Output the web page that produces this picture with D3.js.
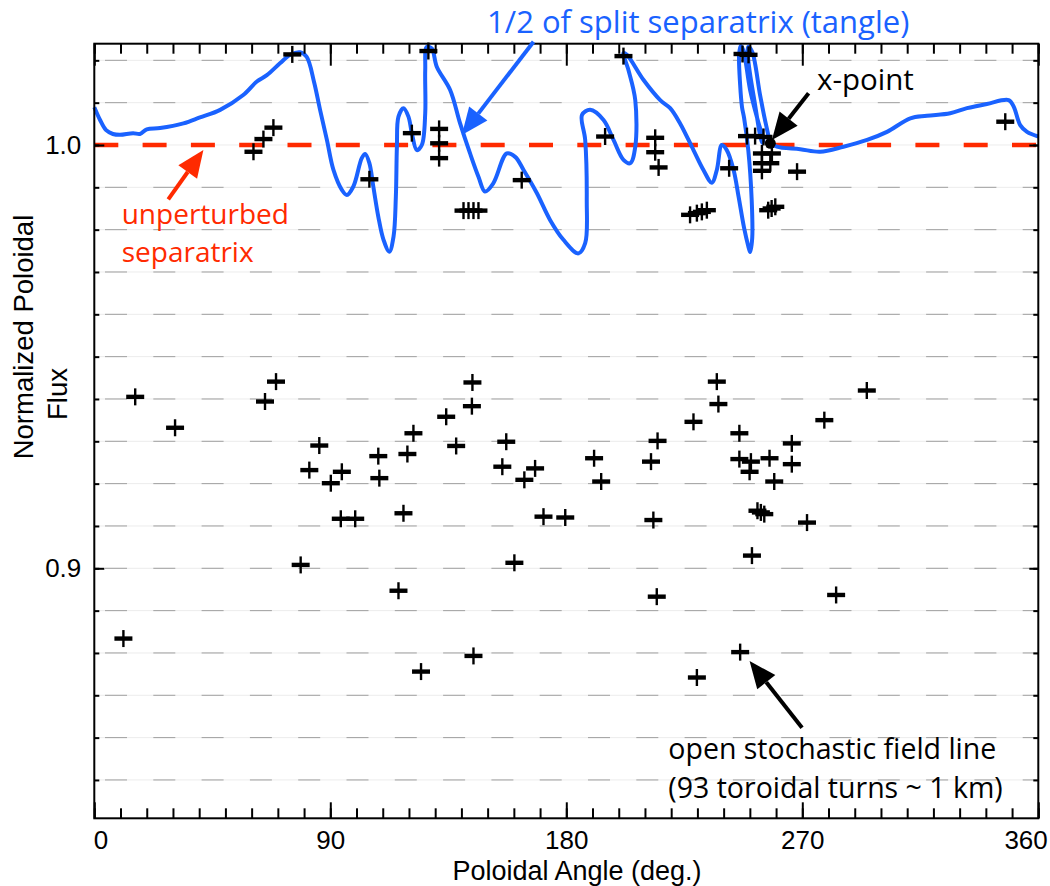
<!DOCTYPE html>
<html>
<head>
<meta charset="utf-8">
<script src="https://cdn.jsdelivr.net/npm/d3@7"></script>
<style>
  body { margin: 0; background: #fff; }
  svg { display: block; }
</style>
</head>
<body>
<div id="chart"></div>
<script>
const WIDTH = 1050;
const HEIGHT = 886;
const LEFT = 94.3, RIGHT = 1038.3, TOP = 43.7, BOTTOM = 818.3;
const BLUE = '#1a62ff';
const RED = '#ff2a00';
const AXIS_FONT = '"Liberation Sans", Arial, sans-serif';
const NOTE_FONT = '"Open Sans", "Noto Sans", sans-serif';

// x axis: poloidal angle (deg), y axis: normalized poloidal flux
const xTickValues = [0, 90, 180, 270, 360];
const xTickLabels = ['0', '90', '180', '270', '360'];
const yTickValues = [0.9, 1.0];
const yTickLabels = ['0.9', '1.0'];
const yDomain = [0.84094, 1.02393];

// field line punctures (angle, flux)
const crossAngle = [
  60.7, 64.5, 68.3, 75.5, 104.9, 121.1, 127.4, 131.5, 131.5, 131.5,
  140.8, 142.7, 144.6, 146.5, 163.0, 201.8, 194.8, 213.9, 213.9, 215.2,
  227.2, 229.8, 231.7, 233.6, 242.1, 247.2, 249.5,
  248.9, 252.0, 255.2, 254.6, 258.4, 254.6, 257.8, 254.6, 268.0,
  257.0, 258.3, 259.7, 347.4,
  15.6, 30.8, 65.1, 69.3, 85.8, 82.0, 90.2, 94.4, 94.0, 99.5,
  78.7, 108.3, 108.7, 119.4, 121.7, 117.9, 134.2, 138.0, 144.0, 144.2,
  157.1, 155.6, 164.0, 168.1, 171.3, 179.6, 160.2, 116.0, 190.6, 193.3,
  212.3, 214.8, 213.2, 214.5, 228.5, 237.4, 238.0, 246.0, 246.0, 250.4,
  249.9, 257.5, 259.3, 266.0, 266.0, 278.4, 294.6, 252.9, 254.2, 255.5,
  271.8, 250.8, 282.9, 11.1, 124.6, 144.6, 229.8, 246.3
];
const crossFlux = [
  0.9984, 1.0014, 1.0041, 1.0214, 0.9919, 1.0028, 1.0222, 1.0038, 1.0004, 0.9969,
  0.9845, 0.9845, 0.9845, 0.9845, 0.9917, 1.0210, 1.0020, 1.0017, 0.9983, 0.9947,
  0.9835, 0.9839, 0.9842, 0.9846, 0.9945, 1.0215, 1.0213,
  1.0021, 1.0021, 1.0019, 0.9980, 0.9980, 0.9957, 0.9957, 0.9939, 0.9937,
  0.9846, 0.9850, 0.9854, 1.0055,
  0.9405, 0.9332, 0.9394, 0.9441, 0.9290, 0.9232, 0.9201, 0.9228, 0.9117, 0.9117,
  0.9008, 0.9265, 0.9213, 0.9270, 0.9319, 0.9130, 0.9358, 0.9289, 0.9383, 0.9439,
  0.9299, 0.9240, 0.9209, 0.9236, 0.9122, 0.9120, 0.9013, 0.8947, 0.9260, 0.9205,
  0.9252, 0.9301, 0.9114, 0.8933, 0.9346, 0.9441, 0.9388, 0.9319, 0.9258, 0.9252,
  0.9228, 0.9260, 0.9205, 0.9295, 0.9246, 0.9350, 0.9420, 0.9136, 0.9132, 0.9128,
  0.9108, 0.9030, 0.8937, 0.8834, 0.8756, 0.8793, 0.8742, 0.8802
];

// half of the split separatrix, traced in order along the curve
const tangleAngle = [
  0.0, 2.2, 4.5, 7.1, 9.8, 14.8, 17.4, 20.0, 25.1, 34.0,
  40.3, 48.0, 56.8, 62.0, 65.8, 70.8, 74.7, 78.5, 81.0, 83.8,
  86.1, 88.7, 91.2, 94.4, 96.3, 98.8, 102.0, 103.3, 104.9, 106.4,
  108.3, 110.3, 112.5, 114.1, 115.0, 115.4, 116.0, 117.9, 119.8, 121.1,
  123.0, 124.9, 126.2, 126.2, 126.8, 128.7, 130.6, 135.7, 139.5, 143.3,
  146.5, 149.0, 152.2, 157.3, 160.5, 163.7, 168.8, 173.8, 178.9, 184.6,
  187.2, 187.8, 187.2, 186.0, 189.1, 194.2, 198.0, 201.8, 204.4, 206.3,
  206.3, 203.7, 201.8, 203.1, 209.4, 215.8, 219.6, 223.4, 228.5, 232.3,
  235.5, 237.4, 239.3, 241.2, 243.8, 245.7, 247.8, 249.4, 250.1, 250.9,
  250.7, 249.4, 247.8, 247.0, 246.3, 245.9, 246.5, 247.5, 250.1, 253.2,
  255.1, 254.7, 251.7, 249.4, 249.4, 250.9, 253.9, 256.2, 258.1, 260.3,
  269.2, 276.8, 285.7, 294.7, 302.3, 311.2, 317.5, 326.4, 332.8, 340.4,
  348.7, 350.6, 353.1, 355.7, 360.0
];
const tangleFlux = [
  1.0089, 1.0059, 1.0035, 1.0026, 1.0024, 1.0028, 1.0026, 1.0037, 1.0040, 1.0051,
  1.0065, 1.0083, 1.0118, 1.0150, 1.0165, 1.0193, 1.0213, 1.0219, 1.0208, 1.0149,
  1.0083, 1.0012, 0.9941, 0.9894, 0.9882, 0.9902, 0.9969, 0.9979, 0.9957, 0.9902,
  0.9831, 0.9776, 0.9748, 0.9783, 0.9878, 0.9996, 1.0067, 1.0087, 1.0067, 1.0028,
  0.9988, 1.0000, 1.0075, 1.0177, 1.0232, 1.0228, 1.0185, 1.0130, 1.0051, 0.9980,
  0.9925, 0.9890, 0.9910, 0.9980, 0.9972, 0.9941, 0.9886, 0.9823, 0.9776, 0.9744,
  0.9768, 0.9870, 1.0012, 1.0071, 1.0083, 1.0059, 1.0012, 0.9965, 0.9957, 0.9996,
  1.0106, 1.0177, 1.0217, 1.0213, 1.0154, 1.0106, 1.0087, 1.0051, 0.9988, 0.9941,
  0.9911, 0.9941, 1.0000, 0.9988, 0.9941, 0.9878, 0.9804, 0.9761, 0.9747, 0.9780,
  0.9870, 0.9988, 1.0064, 1.0090, 1.0142, 1.0213, 1.0234, 1.0224, 1.0130, 1.0054,
  1.0012, 1.0005, 1.0106, 1.0201, 1.0232, 1.0220, 1.0118, 1.0047, 1.0005, 0.9996,
  0.9990, 0.9984, 0.9996, 1.0012, 1.0031, 1.0063, 1.0069, 1.0075, 1.0087, 1.0097,
  1.0106, 1.0091, 1.0047, 1.0031, 1.0020
];

// x-point of the unperturbed separatrix
const xPoint = [257.8, 1.0004];

const svg = d3.select('#chart')
  .append('svg')
  .attr('width', WIDTH)
  .attr('height', HEIGHT);

const x = d3.scaleLinear().domain([0, 360]).range([LEFT, RIGHT]);
const y = d3.scaleLinear().domain(yDomain).range([BOTTOM, TOP]);

// dashed grid every 0.01 in flux
const gridValues = d3.range(0.85, 1.0205, 0.01).map(v => +v.toFixed(2));
const grid = svg.append('g');
grid.selectAll('line.faint')
  .data(gridValues)
  .enter()
  .append('line')
  .attr('x1', LEFT).attr('x2', RIGHT)
  .attr('y1', d => y(d)).attr('y2', d => y(d))
  .attr('stroke', '#ececec')
  .attr('stroke-width', 1);
grid.selectAll('line.dash')
  .data(gridValues.filter(v => v !== 1.0))
  .enter()
  .append('line')
  .attr('x1', LEFT).attr('x2', RIGHT)
  .attr('y1', d => y(d)).attr('y2', d => y(d))
  .attr('stroke', '#a0a0a0')
  .attr('stroke-width', 1)
  .attr('stroke-dasharray', '22,26.3')
  .attr('stroke-dashoffset', 37.6);

// unperturbed separatrix
svg.append('line')
  .attr('x1', x(0)).attr('x2', x(360))
  .attr('y1', y(1.0)).attr('y2', y(1.0))
  .attr('stroke', RED)
  .attr('stroke-width', 4.5)
  .attr('stroke-dasharray', '24,24.3');

// tangle curve
const tangle = tangleAngle.map((a, i) => [a, tangleFlux[i]]);
const line = d3.line()
  .x(d => x(d[0]))
  .y(d => y(d[1]))
  .curve(d3.curveCatmullRom.alpha(0.5));
svg.append('path')
  .datum(tangle)
  .attr('d', line)
  .attr('fill', 'none')
  .attr('stroke', BLUE)
  .attr('stroke-width', 4)
  .attr('stroke-linejoin', 'round');

// crosses
const crosses = crossAngle.map((a, i) => [a, crossFlux[i]]);
const cg = svg.append('g').selectAll('g')
  .data(crosses)
  .enter()
  .append('g')
  .attr('transform', d => 'translate(' + x(d[0]) + ',' + y(d[1]) + ')');
cg.append('line')
  .attr('x1', -9).attr('x2', 9).attr('y1', 0).attr('y2', 0)
  .attr('stroke', '#000').attr('stroke-width', 4.4);
cg.append('line')
  .attr('x1', 0).attr('x2', 0).attr('y1', -8.5).attr('y2', 8.5)
  .attr('stroke', '#000').attr('stroke-width', 2.4);

svg.append('circle')
  .attr('cx', x(xPoint[0]))
  .attr('cy', y(xPoint[1]))
  .attr('r', 5.5)
  .attr('fill', '#000');

// axes: ticks point inward on all four sides
function styleAxis(g) {
  g.select('.domain').remove();
  g.selectAll('.tick line').attr('stroke', '#000').attr('stroke-width', 2);
  g.selectAll('.tick text')
    .attr('fill', '#000')
    .style('font-family', AXIS_FONT)
    .style('font-size', '26px');
}
const xMinor = d3.range(0, 361, 10);
const yMinor = gridValues;

svg.append('g').attr('transform', 'translate(0,' + BOTTOM + ')')
  .call(d3.axisBottom(x).tickValues(xMinor).tickSize(-10).tickFormat(''))
  .call(styleAxis);
const xAxisG = svg.append('g').attr('transform', 'translate(0,' + BOTTOM + ')')
  .call(d3.axisBottom(x).tickValues(xTickValues).tickSize(-16).tickPadding(12)
    .tickFormat((d, i) => xTickLabels[i]))
  .call(styleAxis);
// end labels sit inside the frame edges, as in the original
xAxisG.selectAll('.tick text')
  .filter(d => d === 0)
  .attr('text-anchor', 'start')
  .attr('x', -1);
xAxisG.selectAll('.tick text')
  .filter(d => d === 360)
  .attr('text-anchor', 'end')
  .attr('x', 9);

svg.append('g').attr('transform', 'translate(0,' + TOP + ')')
  .call(d3.axisTop(x).tickValues(xMinor).tickSize(-10).tickFormat(''))
  .call(styleAxis);
svg.append('g').attr('transform', 'translate(0,' + TOP + ')')
  .call(d3.axisTop(x).tickValues(xTickValues).tickSize(-22).tickFormat(''))
  .call(styleAxis);

svg.append('g').attr('transform', 'translate(' + LEFT + ',0)')
  .call(d3.axisLeft(y).tickValues(yMinor).tickSize(-5).tickFormat(''))
  .call(styleAxis);
svg.append('g').attr('transform', 'translate(' + LEFT + ',0)')
  .call(d3.axisLeft(y).tickValues(yTickValues).tickSize(-10).tickPadding(13)
    .tickFormat((d, i) => yTickLabels[i]))
  .call(styleAxis);
svg.append('g').attr('transform', 'translate(' + RIGHT + ',0)')
  .call(d3.axisRight(y).tickValues(yMinor).tickSize(-5).tickFormat(''))
  .call(styleAxis);
svg.append('g').attr('transform', 'translate(' + RIGHT + ',0)')
  .call(d3.axisRight(y).tickValues(yTickValues).tickSize(-9).tickFormat(''))
  .call(styleAxis);

svg.append('rect')
  .attr('x', LEFT).attr('y', TOP)
  .attr('width', RIGHT - LEFT).attr('height', BOTTOM - TOP)
  .attr('fill', 'none')
  .attr('stroke', '#000')
  .attr('stroke-width', 2);

// axis titles
svg.append('text')
  .attr('x', 577).attr('y', 880)
  .attr('text-anchor', 'middle')
  .style('font-family', AXIS_FONT)
  .style('font-size', '27px')
  .text('Poloidal Angle (deg.)');
svg.append('text')
  .attr('transform', 'translate(33,337) rotate(-90)')
  .attr('text-anchor', 'middle')
  .style('font-family', AXIS_FONT)
  .style('font-size', '27.5px')
  .text('Normalized Poloidal');
svg.append('text')
  .attr('transform', 'translate(66.7,394) rotate(-90)')
  .attr('text-anchor', 'middle')
  .style('font-family', AXIS_FONT)
  .style('font-size', '27.5px')
  .text('Flux');

// annotations, positioned in data units
function arrow(from, to, color) {
  const x1 = x(from[0]), y1 = y(from[1]);
  const x2 = x(to[0]), y2 = y(to[1]);
  const ang = Math.atan2(y2 - y1, x2 - x1);
  const headLen = 27, headHalf = 11.5;
  const bx = x2 - headLen * Math.cos(ang), by = y2 - headLen * Math.sin(ang);
  svg.append('line')
    .attr('x1', x1).attr('y1', y1).attr('x2', bx).attr('y2', by)
    .attr('stroke', color).attr('stroke-width', 4);
  const px = -Math.sin(ang) * headHalf, py = Math.cos(ang) * headHalf;
  svg.append('path')
    .attr('d', 'M' + x2 + ',' + y2 + 'L' + (bx + px) + ',' + (by + py) + 'L' + (bx - px) + ',' + (by - py) + 'Z')
    .attr('fill', color);
}
// multi-line notes go in one text element, one tspan per line
function note(pos, lines, color, size, anchor, lineGap) {
  const t = svg.append('text')
    .attr('x', x(pos[0])).attr('y', y(pos[1]))
    .attr('fill', color)
    .attr('text-anchor', anchor || 'start')
    .style('font-family', NOTE_FONT)
    .style('font-size', size + 'px');
  lines.forEach((s, i) => {
    t.append('tspan')
      .attr('x', x(pos[0]))
      .attr('dy', i === 0 ? 0 : lineGap)
      .text(s);
  });
}

arrow([167.5, 1.0244], [140.15, 1.00236], BLUE);
note([230.3, 1.02646], ['1/2 of split separatrix (tangle)'], BLUE, 31, 'middle');

arrow([272.4, 1.0122], [258.4, 1.0012], '#000');
note([275.6, 1.0130], ['x-point'], '#000', 29.5);

arrow([28.2, 0.98717], [41.6, 0.99882], RED);
note([10.45, 0.98134], ['unperturbed', 'separatrix'], RED, 28, 'start', 38.3);

arrow([269.9, 0.86234], [249.9, 0.8781], '#000');
note([218.9, 0.85500], ['open stochastic field line', '(93 toroidal turns ~ 1 km)'], '#000', 28.5, 'start', 39);
</script>
</body>
</html>
